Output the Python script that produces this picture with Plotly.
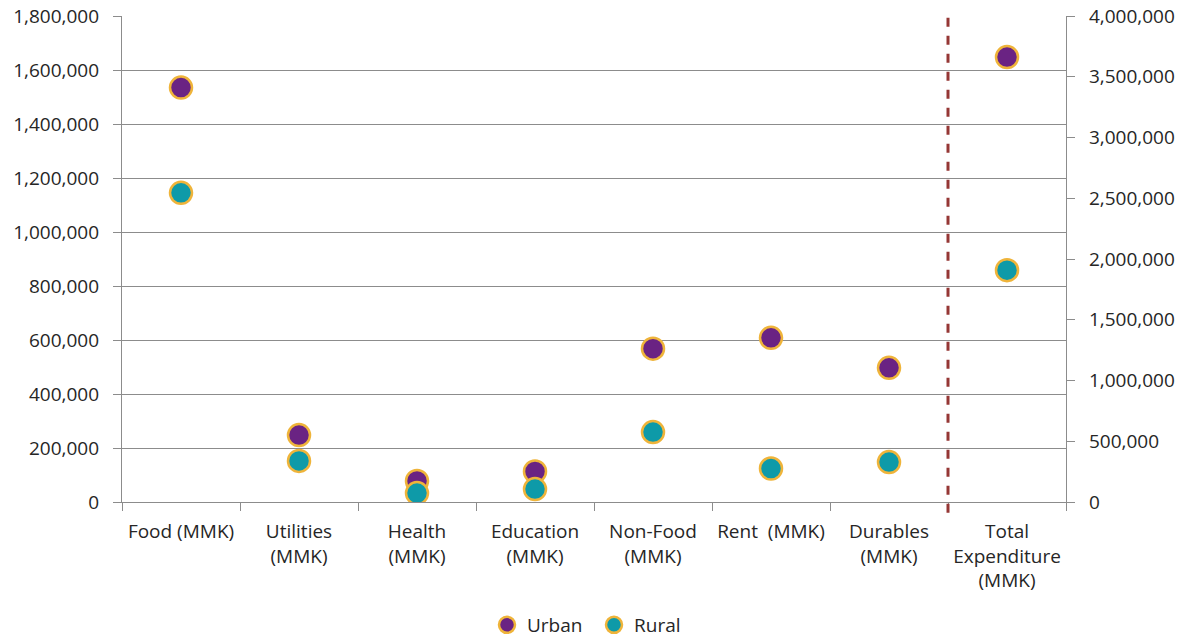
import plotly.graph_objects as go

# Household expenditure by category (MMK)
categories = ["Food", "Utilities", "Health", "Education", "Non-Food", "Rent", "Durables", "Total"]
tick_labels = [
    "Food (MMK)", "Utilities<br>(MMK)", "Health<br>(MMK)", "Education<br>(MMK)",
    "Non-Food<br>(MMK)", "Rent  (MMK)", "Durables<br>(MMK)", "Total<br>Expenditure<br>(MMK)",
]
urban = [1535000, 248000, 78000, 113000, 568000, 608000, 497000]
rural = [1145000, 152000, 33000, 48000, 259000, 124000, 148000]
urban_total = [3662000]
rural_total = [1908000]

PURPLE = "#6A2383"
TEAL = "#0E9AA8"
GOLD = "#EFB43A"
GRID = "#8C8C8C"
FONT = "Open Sans, sans-serif"

fig = go.Figure()

def add_series(name, vals, total, color):
    marker = dict(size=22, color=color, line=dict(color=GOLD, width=2.5))
    fig.add_trace(go.Scatter(
        x=categories[:7], y=vals, mode="markers", name=name,
        legendgroup=name, marker=marker, yaxis="y",
    ))
    fig.add_trace(go.Scatter(
        x=categories[7:], y=total, mode="markers", name=name,
        legendgroup=name, showlegend=False, marker=marker, yaxis="y2",
    ))

add_series("Urban", urban, urban_total, PURPLE)
add_series("Rural", rural, rural_total, TEAL)

# Divider between the component categories and the total
fig.add_shape(
    type="line", xref="x", yref="paper", x0=6.5, x1=6.5, y0=-0.022, y1=1,
    line=dict(color="#953735", width=3, dash="dash"), layer="above",
)

fig.update_layout(
    width=1186, height=644,
    margin=dict(l=122, r=120, t=16, b=142, autoexpand=False),
    paper_bgcolor="white", plot_bgcolor="white",
    font=dict(family=FONT, size=19, color="#262626"),
    xaxis=dict(
        type="category", categoryorder="array", categoryarray=categories,
        tickvals=categories, ticktext=tick_labels, tickangle=0,
        tickson="boundaries", ticks="outside", ticklen=8, tickcolor=GRID,
        showgrid=False, showline=True, linecolor=GRID, linewidth=1.3,
        range=[-0.5, 7.5], ticklabelstandoff=12, automargin=False,
    ),
    yaxis=dict(
        range=[0, 1800000], dtick=200000, tickformat=",d",
        showgrid=True, gridcolor=GRID, gridwidth=1.3,
        showline=True, linecolor=GRID, linewidth=1.3,
        ticks="outside", ticklen=8, tickcolor=GRID, zeroline=False,
        ticklabelstandoff=10, automargin=False,
    ),
    yaxis2=dict(
        range=[0, 4000000], dtick=500000, tickformat=",d",
        overlaying="y", side="right", showgrid=False,
        showline=True, linecolor=GRID, linewidth=1.3,
        ticks="outside", ticklen=8, tickcolor=GRID, zeroline=False,
        ticklabelstandoff=10, automargin=False,
    ),
    legend=dict(
        orientation="h", x=0.5, xanchor="center",
        yref="container", y=0, yanchor="bottom",
        font=dict(size=19), itemsizing="trace", traceorder="normal",
        itemwidth=30, entrywidth=62,
    ),
    showlegend=True,
)

fig.write_html("out.html")
